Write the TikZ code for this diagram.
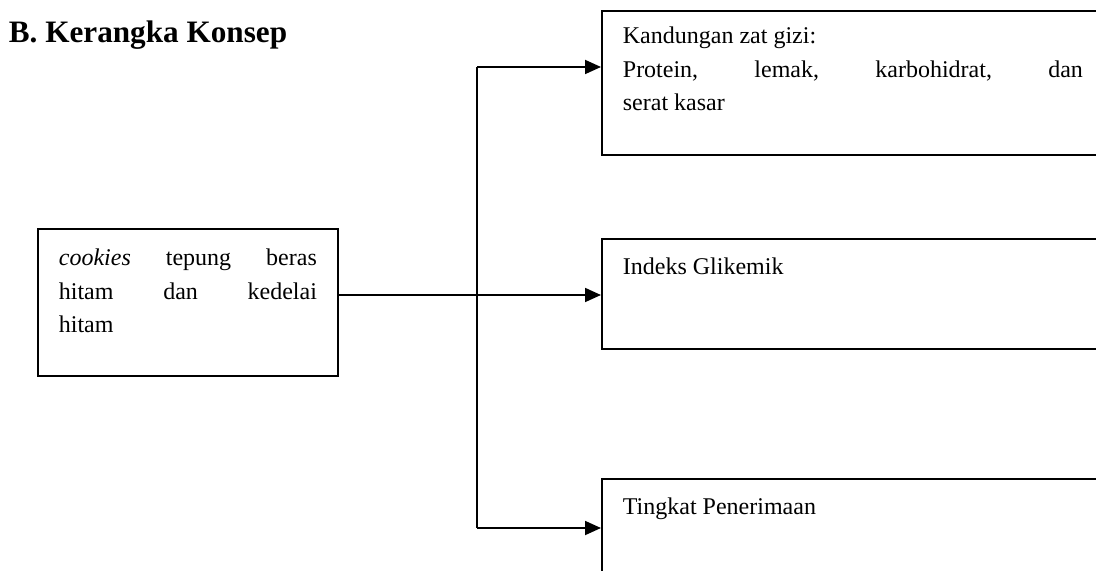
\documentclass[tikz,border=0pt]{standalone}
\usepackage{fontspec}
\setmainfont{Liberation Serif}
\usetikzlibrary{arrows.meta}
\begin{document}
\begin{tikzpicture}[x=0.5pt,y=-0.5pt,line width=0.9pt,
  konsep/.style={draw,anchor=north west,inner xsep=10.5pt,inner ysep=0pt,
    align=justify,font=\fontsize{12}{16.6}\selectfont},
  panah/.style={-{Triangle[length=8pt,width=7pt]}}]
\clip (0,0) rectangle (1096,571);
\node[anchor=base west,inner sep=0pt,font=\fontsize{15.6}{18}\selectfont\bfseries] (judul) at (8,43) {B. Kerangka Konsep};
% kotak kiri
\node[konsep,text width=129pt,text height=18.5pt,text depth=55pt] (cookies) at (37,228)
  {\textit{cookies} tepung beras\linebreak hitam dan kedelai\linebreak hitam};
% kotak kanan
\node[konsep,text width=230pt,text height=16.5pt,text depth=55.5pt] (gizi) at (601,10)
  {Kandungan zat gizi:\newline Protein, lemak, karbohidrat, dan\linebreak serat kasar};
\node[konsep,text width=230pt,text height=18pt,text depth=37pt] (glikemik) at (601,238)
  {Indeks Glikemik};
\node[konsep,text width=230pt,text height=18pt,text depth=50pt] (terima) at (601,478)
  {Tingkat Penerimaan};
% garis penghubung
\coordinate (jtop) at (477,67);
\coordinate (jmid) at (477,295);
\coordinate (jbot) at (477,528);
\draw (jtop) -- (jbot);
\draw[panah] (jtop) -- (gizi.west |- jtop);
\draw[panah] (cookies.east |- jmid) -- (glikemik.west |- jmid);
\draw[panah] (jbot) -- (terima.west |- jbot);
\end{tikzpicture}
\end{document}
